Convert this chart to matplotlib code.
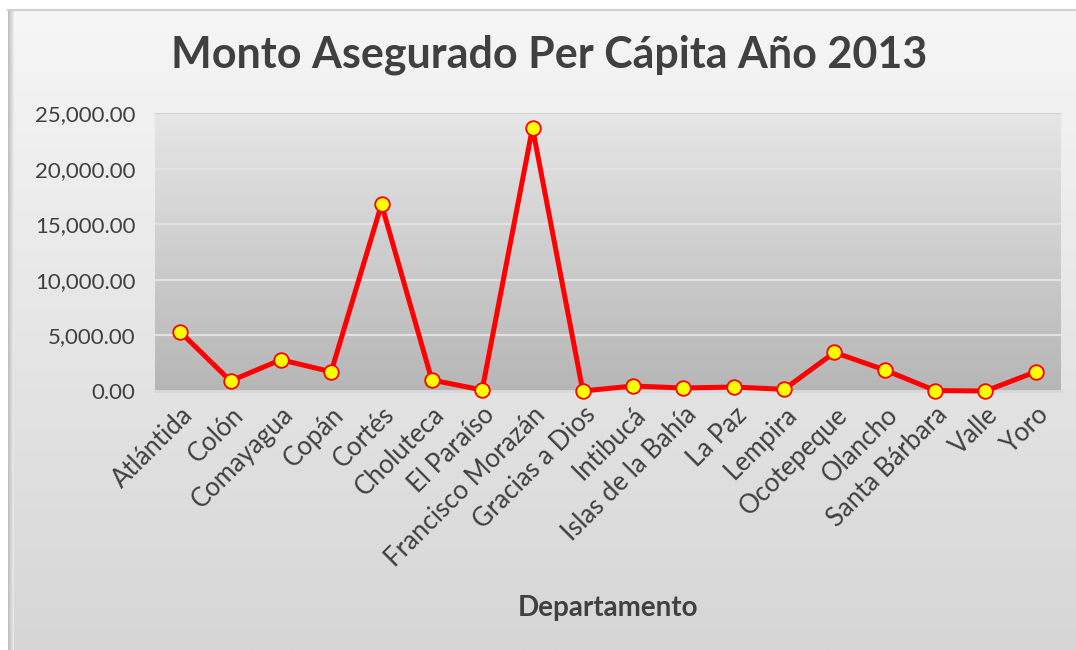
import numpy as np
import matplotlib
matplotlib.use('Agg')
import matplotlib.pyplot as plt
from matplotlib.ticker import FuncFormatter
from matplotlib.colors import LinearSegmentedColormap

departamentos = ['Atlántida', 'Colón', 'Comayagua', 'Copán', 'Cortés', 'Choluteca',
                 'El Paraíso', 'Francisco Morazán', 'Gracias a Dios', 'Intibucá',
                 'Islas de la Bahía', 'La Paz', 'Lempira', 'Ocotepeque', 'Olancho',
                 'Santa Bárbara', 'Valle', 'Yoro']
monto = [5320, 900, 2810, 1730, 16790, 990, 90, 23670, 0, 450,
         270, 360, 150, 3470, 1890, 40, 0, 1730]

yticks = [0, 5000, 10000, 15000, 20000, 25000]

plt.rcParams['font.family'] = ['Lato', 'DejaVu Sans']
txt = '#404040'

fig = plt.figure(figsize=(10.76, 6.5), dpi=100)
fig.patch.set_facecolor('white')

# background panel of the chart with a vertical gradient
bg = fig.add_axes([8 / 1076, 0, 1 - 8 / 1076, 1 - 10 / 650])
bg_cmap = LinearSegmentedColormap.from_list('bg', ['#f6f6f6', '#d6d6d6'])
bg.imshow(np.linspace(0, 1, 256).reshape(-1, 1), aspect='auto', cmap=bg_cmap,
          extent=[0, 1, 0, 1], origin='upper')
bg.axis('off')
# left shadow and top edge
shadow = fig.add_axes([8 / 1076, 0, 6 / 1076, 1 - 10 / 650])
sh_cmap = LinearSegmentedColormap.from_list('sh', ['#bdbdbd', '#ececec'])
shadow.imshow(np.linspace(0, 1, 64).reshape(1, -1), aspect='auto', cmap=sh_cmap,
              extent=[0, 1, 0, 1])
shadow.axis('off')
fig.add_artist(plt.Line2D([8 / 1076, 1], [1 - 10 / 650, 1 - 10 / 650],
                          color='#d0d0d0', lw=1.5, transform=fig.transFigure))

ax = fig.add_axes([155 / 1076, 1 - 391 / 650, (1061 - 155) / 1076, (391 - 113) / 650])
ax.set_zorder(2)
x = np.arange(len(departamentos))

# plot area gradient
pa_cmap = LinearSegmentedColormap.from_list('pa', ['#e6e6e6', '#b6b6b6'])
ax.imshow(np.linspace(0, 1, 256).reshape(-1, 1), aspect='auto', cmap=pa_cmap,
          extent=[-0.5, len(departamentos) - 0.5, 0, 25000], origin='upper', zorder=0)

for t in yticks[1:]:
    ax.axhline(t, color='#e2e2e2', lw=1.5, zorder=1)
ax.axhline(25000, color='#d4d4d4', lw=1.5, zorder=1)

ax.plot(x, monto, color='#ff0000', lw=3.6, marker='o', markersize=10.5,
        markerfacecolor='#ffff00', markeredgecolor='#ff0000', markeredgewidth=1.3,
        zorder=3, clip_on=False)

ax.set_xlim(-0.5, len(departamentos) - 0.5)
ax.set_ylim(0, 25000)
ax.set_yticks(yticks)
ax.yaxis.set_major_formatter(FuncFormatter(lambda v, p: f'{v:,.2f}'))
ax.set_xticks(x)
ax.set_xticklabels(departamentos, rotation=45, ha='right', rotation_mode='anchor')
ax.tick_params(axis='both', length=0, labelcolor=txt)
ax.tick_params(axis='x', pad=8, labelsize=18.5)
ax.tick_params(axis='y', pad=14, labelsize=16)
for s in ['top', 'right', 'left']:
    ax.spines[s].set_visible(False)
ax.spines['bottom'].set_color('#d9d9d9')
ax.spines['bottom'].set_linewidth(2)

fig.text(549 / 1076, 1 - 55 / 650, 'Monto Asegurado Per Cápita Año 2013',
         ha='center', va='center', fontsize=31, fontweight='bold', color=txt)
fig.text(608 / 1076, 1 - 608 / 650, 'Departamento', ha='center', va='center',
         fontsize=20, fontweight='bold', color=txt)

fig.savefig('out.png', dpi=100)
